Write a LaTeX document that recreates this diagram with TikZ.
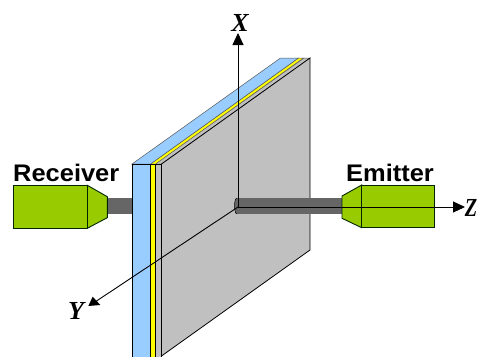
\documentclass[tikz,border=0pt]{standalone}
\usepackage{fontspec}
\setmainfont{Liberation Serif}
\setsansfont{Liberation Sans}
\usetikzlibrary{arrows.meta}
\definecolor{plateblue}{HTML}{99CCFF}
\definecolor{plategray}{HTML}{C0C0C0}
\definecolor{plateyellow}{HTML}{FFFF00}
\definecolor{probegreen}{HTML}{99CC00}
\definecolor{rodgray}{HTML}{666666}
\tikzset{
  x=1pt,y=-1pt,
  edge/.style={draw=black,line width=0.8pt,line join=miter},
  softedge/.style={draw=black!65,line width=0.5pt},
  rod/.style={fill=rodgray,draw=none},
  probe/.style={fill=probegreen,draw=black!85!green,line width=0.9pt},
  axis/.style={draw=black,line width=0.9pt},
  axishead/.style={-{Triangle[length=12pt,width=11pt]}},
  probelabel/.style={font=\sffamily\bfseries\fontsize{24}{24}\selectfont,inner sep=0pt,anchor=base west,xscale=1.06,transform shape},
  axislabel/.style={font=\bfseries\itshape\fontsize{26}{26}\selectfont,inner sep=0pt,anchor=base}
}
\begin{document}
\begin{tikzpicture}
\clip (0,0) rectangle (478,356);
\fill[white] (0,0) rectangle (478,356);
% plate
\filldraw[fill=plategray,softedge] (155,164) -- (161.5,164) -- (310,58) -- (304,58) -- cycle;
\filldraw[fill=plateyellow,softedge] (150.5,164) -- (155.5,164) -- (303.5,58) -- (298.5,58) -- cycle;
\filldraw[fill=plateblue,softedge] (132,164) -- (150.5,164) -- (298.5,58) -- (280.5,58) -- cycle;
\filldraw[fill=plateblue,edge] (132,164) rectangle (150.5,360);
\filldraw[fill=plateyellow,edge] (150.5,164) rectangle (155,360);
\filldraw[fill=plategray,edge] (155,164) rectangle (161.5,360);
\filldraw[fill=plategray,edge] (161.5,164) -- (310,58) -- (310,250) -- (161.5,356) -- (161.5,360) -- cycle;
% rods
\fill[rod] (107,198) rectangle (132,213.5);
\fill[rod] (237,198) rectangle (342,214);
\fill[rod] (237,214) arc[start angle=90,end angle=270,x radius=2.5,y radius=8];
\draw[black,line width=0.5pt] (237,214) arc[start angle=90,end angle=270,x radius=2.5,y radius=8];
% receiver
\filldraw[probe] (87.3,185.3) -- (107.3,196.7) -- (107.3,217.7) -- (87.3,228.3) -- cycle;
\filldraw[probe] (13.3,185.3) rectangle (87.3,228.3);
% emitter
\filldraw[probe] (361.7,185) -- (342,196) -- (342,218.3) -- (361.7,227.7) -- cycle;
\filldraw[probe] (361.7,185) rectangle (434.7,227.7);
% axes
\coordinate (origin) at (238,207);
\coordinate (xtip) at (238,33);
\coordinate (ztip) at (465,207);
\coordinate (yend) at (95,302);
\draw[axis,axishead] (origin) -- (xtip);
\draw[axis,axishead] (origin) -- (ztip);
\draw[axis] (origin) -- (yend);
\fill[black] (92.7,296.7) -- (100.3,305) -- (88.3,306) -- cycle;
% labels
\node[probelabel] (receiver) at (13,181) {Receiver};
\node[probelabel] (emitter) at (346,181) {Emitter};
\node[axislabel] (xlabel) at (240,31) {X};
\node[axislabel] (ylabel) at (76,319) {Y};
\node[axislabel,xscale=0.78,transform shape] (zlabel) at (471,216) {Z};
\end{tikzpicture}
\end{document}
